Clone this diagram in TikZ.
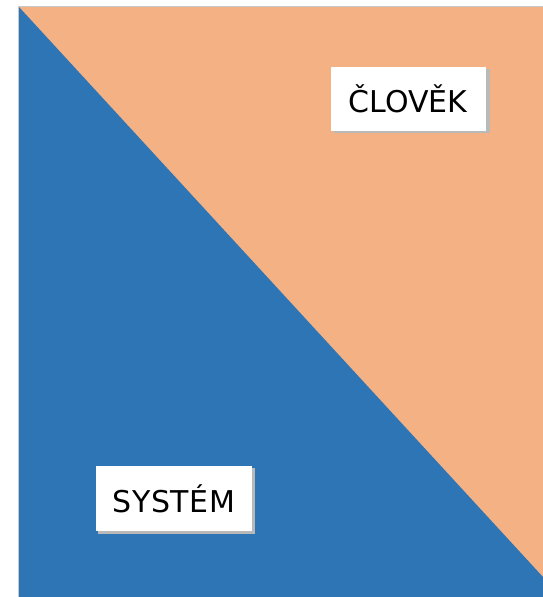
\documentclass[tikz,border=0pt]{standalone}
\usepackage{fontspec}
\setmainfont{DejaVu Sans}
\definecolor{panelblue}{RGB}{46,117,182}
\definecolor{panelorange}{RGB}{244,177,131}
\definecolor{edgegray}{RGB}{200,200,200}
\definecolor{shadowgray}{RGB}{185,185,185}
\tikzset{
  label box/.style={fill=white, draw=none, minimum width=155pt, minimum height=64pt,
    inner sep=0pt, font=\fontsize{30}{35}\selectfont, text=black},
  box shadow/.style={fill=shadowgray, draw=none}
}
\begin{document}
\begin{tikzpicture}[x=1pt, y=-1pt]
  % canvas
  \useasboundingbox (0,0) rectangle (543,597);
  \fill[white] (0,0) rectangle (543,597);
  % outline along top and left
  \fill[edgegray] (17.5,5.5) rectangle (543,7);
  \fill[edgegray] (17.5,5.5) rectangle (19,597);
  % two halves split by the diagonal
  \fill[panelorange] (19,7) rectangle (543,597);
  \fill[panelblue] (19,7) -- (543,577) -- (543,597) -- (19,597) -- cycle;
  % labels with soft drop shadows
  \fill[box shadow] (334,69) rectangle (489.5,132.5);
  \node[label box] (clovek) at (408,98.5) {ČLOVĚK};
  \fill[box shadow] (98,468) rectangle (254.5,533.5);
  \node[label box, minimum width=156pt, minimum height=65pt] (system) at (174,498.5) {\addfontfeature{LetterSpace=2}SYSTÉM};
\end{tikzpicture}
\end{document}
